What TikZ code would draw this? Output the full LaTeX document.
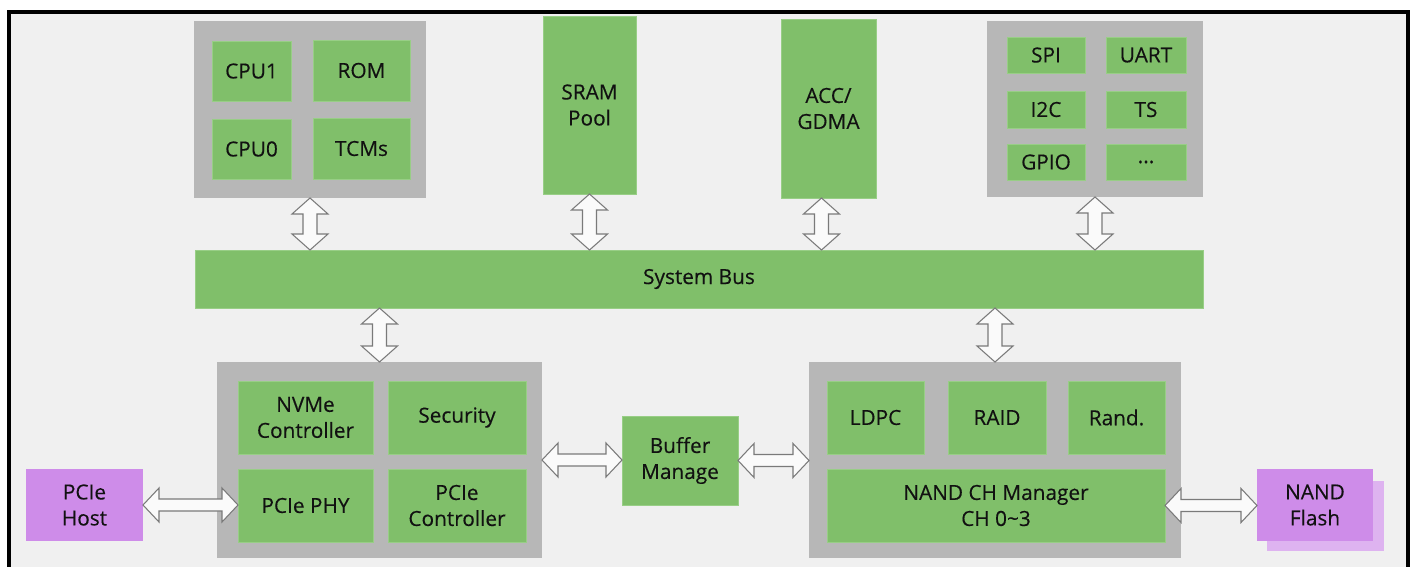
\documentclass[tikz,border=0pt]{standalone}
\usepackage{fontspec}
\setmainfont{Open Sans}
\newfontfamily\lblfont{Open Sans}[FakeBold=0.3]
\usetikzlibrary{calc}
\definecolor{bg}{HTML}{F0F0F0}
\definecolor{grn}{HTML}{80BF6A}
\definecolor{grnedge}{HTML}{98CE86}
\definecolor{gry}{HTML}{B7B7B7}
\definecolor{pur}{HTML}{CE8CE9}
\definecolor{purlt}{HTML}{DEB3F0}
\definecolor{arr}{HTML}{7A7A7A}
\definecolor{txt}{HTML}{111111}
\newcommand\rbox[7]{\node[#6, minimum width={(#4-#2)*0.75pt}, minimum height={(#5-#3)*0.75pt}] (#1) at ({(#2+#4)/2},{(#3+#5)/2}) {#7};}
\newcommand\vba[2]{\coordinate (tA) at (#1); \coordinate (tB) at (#1 |- #2);
\draw[barrow] (tA) -- ($(tA)+(18,16)$) -- ($(tA)+(7,16)$) -- ($(tB)+(7,-16)$) -- ($(tB)+(18,-16)$) -- (tB) -- ($(tB)+(-18,-16)$) -- ($(tB)+(-7,-16)$) -- ($(tA)+(-7,16)$) -- ($(tA)+(-18,16)$) -- cycle;}
\newcommand\hba[2]{\coordinate (tA) at (#1); \coordinate (tB) at (#1 -| #2);
\draw[barrow] (tA) -- ($(tA)+(16,-17)$) -- ($(tA)+(16,-6)$) -- ($(tB)+(-16,-6)$) -- ($(tB)+(-16,-17)$) -- (tB) -- ($(tB)+(-16,17)$) -- ($(tB)+(-16,6)$) -- ($(tA)+(16,6)$) -- ($(tA)+(16,17)$) -- cycle;}
\tikzset{
  base/.style={inner sep=0pt, outer sep=0pt, text=txt, font=\lblfont\fontsize{15.6}{19.5}\selectfont, align=center},
  gbox/.style={base, fill=grn, draw=grnedge, line width=0.4pt},
  graybox/.style={base, fill=gry},
  pbox/.style={base, fill=pur},
  shadowbox/.style={base, fill=purlt},
  barrow/.style={fill=white!96!gray, draw=arr, line width=0.8pt, line join=miter},
  frame/.style={fill=bg, draw=black, line width=3pt}
}
\begin{document}
\begin{tikzpicture}[x=0.75pt,y=-0.75pt]
\useasboundingbox (0,0) rectangle (1413,567);
\fill[white] (0,0) rectangle (1413,567);
\draw[frame] (9,12) rectangle (1408,590);
% top left CPU group
\rbox{cpug}{194}{21}{426}{198}{graybox}{}
\rbox{cpu1}{212}{41}{291}{101}{gbox}{CPU1}
\rbox{rom}{313}{40}{410}{101}{gbox}{ROM}
\rbox{cpu0}{212}{119}{291}{179}{gbox}{CPU0}
\rbox{tcm}{313}{118}{410}{179}{gbox}{TCMs}
% SRAM and ACC
\rbox{sram}{543}{16}{636}{194}{gbox}{SRAM\\Pool}
\rbox{acc}{781}{19}{876}{198}{gbox}{ACC/\\GDMA}
% peripherals
\rbox{perg}{987}{21}{1203}{197}{graybox}{}
\rbox{spi}{1007}{37}{1085}{73}{gbox}{SPI}
\rbox{uart}{1106}{37}{1186}{73}{gbox}{UART}
\rbox{i2c}{1007}{91}{1085}{128}{gbox}{I2C}
\rbox{ts}{1106}{91}{1186}{128}{gbox}{TS}
\rbox{gpio}{1007}{144}{1085}{180}{gbox}{GPIO}
\rbox{dots}{1106}{144}{1186}{180}{gbox}{...}
% system bus
\rbox{bus}{195}{250}{1203}{308}{gbox}{System Bus}
% bottom left group
\rbox{hostg}{217}{362}{542}{558}{graybox}{}
\rbox{nvme}{238}{381}{373}{454}{gbox}{NVMe\\Controller}
\rbox{sec}{388}{381}{526}{454}{gbox}{Security}
\rbox{phy}{238}{469}{373}{542}{gbox}{PCIe PHY}
\rbox{pctl}{388}{469}{526}{542}{gbox}{PCIe\\Controller}
% buffer
\rbox{buf}{622}{416}{738}{505}{gbox}{Buffer\\Manage}
% bottom right group
\rbox{nandg}{809}{362}{1181}{558}{graybox}{}
\rbox{ldpc}{827}{381}{924}{454}{gbox}{LDPC}
\rbox{raid}{948}{381}{1046}{454}{gbox}{RAID}
\rbox{rand}{1068}{381}{1165}{454}{gbox}{Rand.}
\rbox{chm}{827}{469}{1165}{542}{gbox}{NAND CH Manager\\CH 0\textasciitilde 3}
% external
\rbox{host}{26}{469}{143}{541}{pbox}{PCIe\\Host}
\rbox{nandsh}{1267}{481}{1384}{551}{shadowbox}{}
\rbox{nand}{1257}{469}{1373}{541}{pbox}{NAND\\Flash}
% arrows
\vba{cpug.south}{bus.north}
\vba{sram.south}{bus.north}
\coordinate (accs) at ($(acc.south)+(-7,0)$);
\vba{accs}{bus.north}
\vba{perg.south}{bus.north}
\coordinate (busl) at (bus.south -| hostg.north);
\coordinate (busr) at (bus.south -| nandg.north);
\vba{busl}{hostg.north}
\vba{busr}{nandg.north}
\hba{host.east}{phy.west}
\hba{hostg.east}{buf.west}
\hba{buf.east}{nandg.west}
\hba{chm.east}{nand.west}
\end{tikzpicture}
\end{document}
